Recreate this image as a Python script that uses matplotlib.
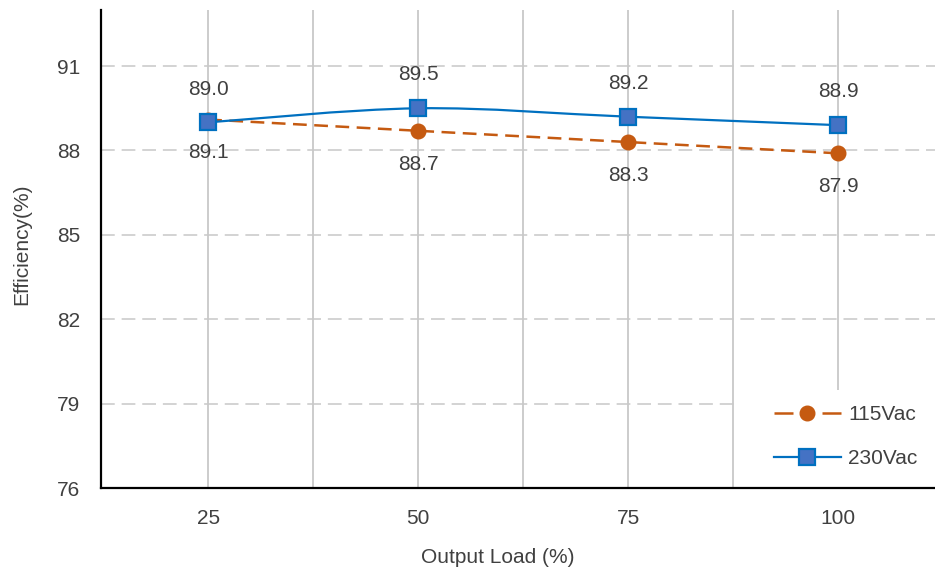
import numpy as np
import matplotlib.pyplot as plt
from matplotlib.path import Path
from matplotlib.patches import PathPatch, Rectangle
from matplotlib.lines import Line2D

plt.rcParams['font.family'] = ['Liberation Sans', 'DejaVu Sans']

loads = ['25', '50', '75', '100']
eff_115 = [89.1, 88.7, 88.3, 87.9]
eff_230 = [89.0, 89.5, 89.2, 88.9]
yticks = [76, 79, 82, 85, 88, 91]

c115 = '#C55A11'
c230 = '#0070C0'
txt = '#404040'


def smooth_path(x, y, k=1/6):
    # catmull-rom style bezier through the points
    x = np.asarray(x, float)
    y = np.asarray(y, float)
    verts = [(x[0], y[0])]
    codes = [Path.MOVETO]
    n = len(x)
    for i in range(n - 1):
        x0, y0 = (x[i - 1], y[i - 1]) if i > 0 else (x[i], y[i])
        x3, y3 = (x[i + 2], y[i + 2]) if i + 2 < n else (x[i + 1], y[i + 1])
        c1 = (x[i] + (x[i + 1] - x0) * k, y[i] + (y[i + 1] - y0) * k)
        c2 = (x[i + 1] - (x3 - x[i]) * k, y[i + 1] - (y3 - y[i]) * k)
        verts += [c1, c2, (x[i + 1], y[i + 1])]
        codes += [Path.CURVE4] * 3
    return Path(verts, codes)


fig = plt.figure(figsize=(9.35, 5.77), dpi=100)
ax = fig.add_axes([0.108, 0.154, 0.892, 0.829])

xs = np.arange(len(loads))
ax.set_xlim(-0.51, 3.46)
ax.set_ylim(76, 93)

# grid
for gx in np.arange(0, 3.01, 0.5):
    ax.axvline(gx, color='#c4c4c4', lw=1.2, zorder=0)
for gy in yticks[1:]:
    ax.axhline(gy, color='#c8c8c8', lw=1.1, dashes=(9, 4.5), zorder=0)

# white legend area
ax.add_patch(Rectangle((0.766, 0.0), 0.234, 0.205, transform=ax.transAxes,
                       facecolor='white', edgecolor='none', zorder=1))

# 115Vac
p1 = PathPatch(smooth_path(xs, eff_115), fill=False, edgecolor=c115, lw=1.8,
               linestyle=(0, (5.5, 3)), zorder=2)
ax.add_patch(p1)
ax.plot(xs, eff_115, 'o', color=c115, ms=10.5, zorder=3)

# 230Vac
p2 = PathPatch(smooth_path(xs, eff_230), fill=False, edgecolor=c230, lw=1.6, zorder=4)
ax.add_patch(p2)
ax.plot(xs, eff_230, 's', mfc='#4472C4', mec=c230, mew=1.6, ms=11, zorder=5)

for x, v in zip(xs, eff_230):
    ax.annotate(f'{v:.1f}', (x, v), xytext=(0, 24), textcoords='offset points',
                ha='center', va='center', fontsize=15, color=txt)
for x, v in zip(xs, eff_115):
    ax.annotate(f'{v:.1f}', (x, v), xytext=(0, -24), textcoords='offset points',
                ha='center', va='center', fontsize=15, color=txt)

ax.set_xticks(xs)
ax.set_xticklabels(loads)
ax.set_yticks(yticks)
ax.tick_params(length=0, labelsize=15, labelcolor=txt)
ax.tick_params(axis='x', pad=15)
ax.tick_params(axis='y', pad=15)

for s in ['top', 'right']:
    ax.spines[s].set_visible(False)
for s in ['left', 'bottom']:
    ax.spines[s].set_linewidth(1.6)
    ax.spines[s].set_color('black')
    ax.spines[s].set_zorder(6)

ax.set_xlabel('Output Load (%)', fontsize=15, color=txt, va='center')
ax.xaxis.set_label_coords(0.476, -0.146)
ax.set_ylabel('Efficiency(%)', fontsize=15, color=txt, va='center')
ax.yaxis.set_label_coords(-0.095, 0.51)

handles = [
    Line2D([], [], color=c115, lw=1.8, dashes=(7.6, 11.6), marker='o', ms=10.5),
    Line2D([], [], color=c230, lw=1.6, marker='s', mfc='#4472C4', mec=c230, mew=1.6, ms=11),
]
leg = ax.legend(handles, ['115Vac', '230Vac'], loc='center left',
                bbox_to_anchor=(0.807, 0.107), fontsize=15, frameon=False,
                handlelength=3.2, labelspacing=1.2, borderpad=0,
                borderaxespad=0, handletextpad=0.35)
for t in leg.get_texts():
    t.set_color(txt)

fig.savefig('out.png', dpi=100)
